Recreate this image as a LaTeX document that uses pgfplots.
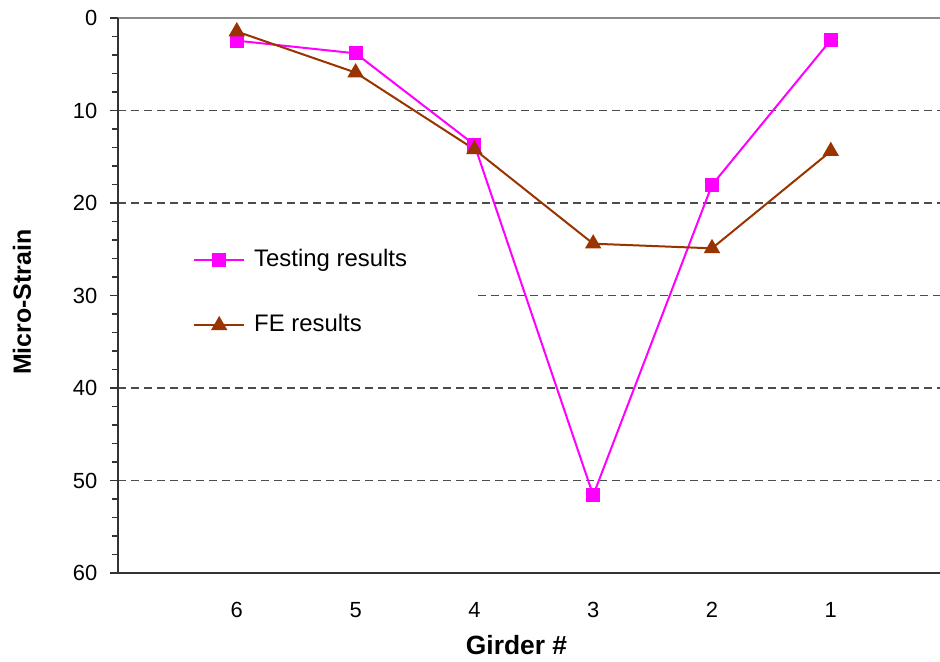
\documentclass[border=0pt]{standalone}
\usepackage{pgfplots}
\pgfplotsset{compat=1.18}
\usepackage{fontspec}
\setmainfont{Liberation Sans}
\definecolor{testc}{RGB}{255,0,255}
\definecolor{fec}{RGB}{153,51,0}
\begin{document}
\begin{tikzpicture}
\useasboundingbox (0,0) rectangle (940bp,662bp);
\begin{axis}[
  at={(118bp,89bp)}, anchor=south west,
  width=831.6bp, height=555bp, scale only axis,
  xmin=0, xmax=7, ymin=0, ymax=60, y dir=reverse,
  clip=false,
  axis line style={draw=none},
  xtick={1,2,3,4,5,6}, xticklabels={6,5,4,3,2,1},
  ytick={0,10,20,30,40,50,60}, minor y tick num=4,
  ytick pos=left, tick align=outside,
  major tick length=8bp, minor tick length=6bp,
  tick style={black!80, line width=1.2bp},
  xtick style={draw=none},
  ticklabel style={font=\fontsize{22}{26}\selectfont},
  /pgf/number format/assume math mode=true,
  yticklabel style={anchor=east, inner sep=0pt, xshift=-12.5bp},
  xticklabel style={anchor=base, inner sep=0pt, yshift=-36bp},
  label style={font=\bfseries\fontsize{25}{30}\selectfont},
  xlabel={Girder \#},
  ylabel={Micro-Strain},
  xlabel style={at={(axis description cs:0.4792,-0.1477)}, anchor=base, font=\bfseries\fontsize{26.5}{30}\selectfont},
  ylabel style={at={(axis description cs:-0.1154,0.488)}, anchor=center},
  legend cell align=left,
  legend style={at={(axis description cs:0.0866,0.587)}, anchor=north west,
    draw=none, fill=none, font=\fontsize{24}{28}\selectfont,
    row sep=43bp, nodes={inner sep=0pt, text height=17bp, text depth=5bp},
    /tikz/every odd column/.append style={column sep=9bp}},
  legend image code/.code={\draw[#1, mark repeat=2, mark phase=2] plot coordinates {(0bp,0bp) (25bp,0bp) (50bp,0bp)};},
]
\draw[black!70, line width=1.2bp, dash pattern=on 8bp off 5bp] (axis cs:0,10) -- (axis cs:7,10);
\draw[black!70, line width=1.2bp, dash pattern=on 8bp off 5bp] (axis cs:0,20) -- (axis cs:7,20);
\draw[black!70, line width=1.2bp, dash pattern=on 8bp off 5bp] (axis cs:3.03,30) -- (axis cs:7,30);
\draw[black!70, line width=1.2bp, dash pattern=on 8bp off 5bp] (axis cs:0,40) -- (axis cs:7,40);
\draw[black!70, line width=1.2bp, dash pattern=on 8bp off 5bp] (axis cs:0,50) -- (axis cs:7,50);
\draw[black!45, line width=2bp] (axis cs:0,0) -- (axis cs:7,0);
\draw[black!80, line width=2bp] (axis cs:0,0) -- (axis cs:0,60) -- (axis cs:7,60);
\addplot[testc, line width=2bp, mark=square*, mark size=6bp, mark options={solid}]
  coordinates {(1,2.45) (2,3.82) (3,13.7) (4,51.6) (5,18.05) (6,2.38)};
\addlegendentry{Testing results}
\addplot[fec, line width=2bp, mark=triangle*, mark size=7.5bp, mark options={solid}]
  coordinates {(1,1.46) (2,5.9) (3,14.2) (4,24.4) (5,24.9) (6,14.4)};
\addlegendentry{FE results}
\end{axis}
\end{tikzpicture}
\end{document}
